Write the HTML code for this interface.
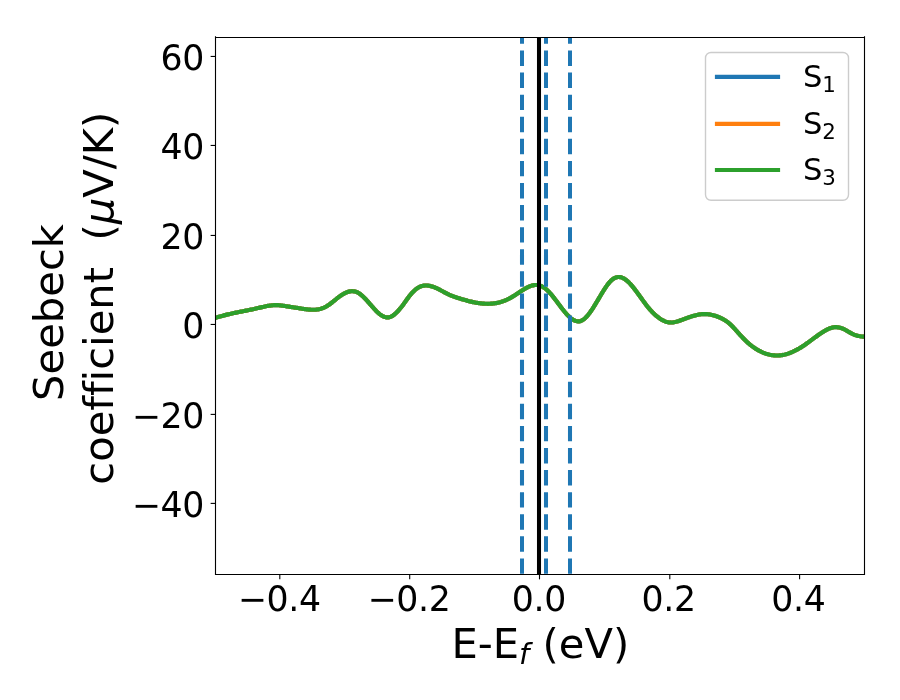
<!DOCTYPE html>
<html><head><meta charset="utf-8"><title>Seebeck coefficient</title>
<style>html,body{margin:0;padding:0;background:#fff}svg{display:block}text{font-variant-ligatures:none;font-feature-settings:"liga" 0,"clig" 0,"dlig" 0}</style>
</head><body>
<svg width="900" height="700" viewBox="0 0 900 700" font-family="'DejaVu Sans', 'Liberation Sans', sans-serif">
<rect width="900" height="700" fill="#fff"/>
<defs><clipPath id="ax"><rect x="215.5" y="37.5" width="649.0" height="537.0"/></clipPath></defs>
<g clip-path="url(#ax)" fill="none">
<path d="M213.0,318.69 L216.0,317.70 L217.0,317.38 L218.0,317.07 L219.0,316.77 L220.0,316.48 L221.0,316.20 L222.0,315.92 L223.0,315.65 L224.0,315.39 L225.0,315.13 L226.0,314.88 L227.0,314.64 L228.0,314.40 L229.0,314.16 L230.0,313.93 L231.0,313.71 L232.0,313.49 L233.0,313.27 L234.0,313.06 L235.0,312.85 L236.0,312.64 L237.0,312.44 L238.0,312.23 L239.0,312.03 L240.0,311.83 L241.0,311.63 L242.0,311.43 L243.0,311.24 L244.0,311.04 L245.0,310.84 L246.0,310.64 L247.0,310.44 L248.0,310.24 L249.0,310.04 L250.0,309.83 L251.0,309.63 L252.0,309.42 L253.0,309.21 L254.0,308.99 L255.0,308.77 L256.0,308.55 L257.0,308.32 L258.0,308.09 L259.0,307.85 L260.0,307.62 L261.0,307.38 L262.0,307.15 L263.0,306.92 L264.0,306.70 L265.0,306.48 L266.0,306.28 L267.0,306.08 L268.0,305.90 L269.0,305.73 L270.0,305.58 L271.0,305.45 L272.0,305.33 L273.0,305.24 L274.0,305.18 L275.0,305.13 L276.0,305.12 L277.0,305.13 L278.0,305.17 L279.0,305.24 L280.0,305.33 L281.0,305.45 L282.0,305.58 L283.0,305.72 L284.0,305.87 L285.0,306.03 L286.0,306.20 L287.0,306.36 L288.0,306.52 L289.0,306.68 L290.0,306.83 L291.0,306.98 L292.0,307.14 L293.0,307.29 L294.0,307.44 L295.0,307.59 L296.0,307.74 L297.0,307.90 L298.0,308.06 L299.0,308.22 L300.0,308.38 L301.0,308.54 L302.0,308.69 L303.0,308.84 L304.0,308.99 L305.0,309.12 L306.0,309.25 L307.0,309.37 L308.0,309.48 L309.0,309.58 L310.0,309.66 L311.0,309.72 L312.0,309.76 L313.0,309.78 L314.0,309.76 L315.0,309.72 L316.0,309.65 L317.0,309.53 L318.0,309.38 L319.0,309.19 L320.0,308.95 L321.0,308.67 L322.0,308.34 L323.0,307.97 L324.0,307.55 L325.0,307.08 L326.0,306.56 L327.0,306.00 L328.0,305.38 L329.0,304.72 L330.0,304.01 L331.0,303.26 L332.0,302.49 L333.0,301.70 L334.0,300.89 L335.0,300.08 L336.0,299.26 L337.0,298.46 L338.0,297.67 L339.0,296.91 L340.0,296.18 L341.0,295.48 L342.0,294.81 L343.0,294.19 L344.0,293.61 L345.0,293.09 L346.0,292.62 L347.0,292.21 L348.0,291.87 L349.0,291.59 L350.0,291.39 L351.0,291.26 L352.0,291.20 L353.0,291.23 L354.0,291.35 L355.0,291.55 L356.0,291.85 L357.0,292.24 L358.0,292.72 L359.0,293.31 L360.0,293.99 L361.0,294.75 L362.0,295.59 L363.0,296.50 L364.0,297.46 L365.0,298.48 L366.0,299.54 L367.0,300.64 L368.0,301.76 L369.0,302.90 L370.0,304.06 L371.0,305.21 L372.0,306.36 L373.0,307.49 L374.0,308.60 L375.0,309.68 L376.0,310.73 L377.0,311.72 L378.0,312.66 L379.0,313.53 L380.0,314.34 L381.0,315.06 L382.0,315.71 L383.0,316.26 L384.0,316.72 L385.0,317.07 L386.0,317.31 L387.0,317.44 L388.0,317.44 L389.0,317.31 L390.0,317.05 L391.0,316.65 L392.0,316.14 L393.0,315.52 L394.0,314.79 L395.0,313.97 L396.0,313.06 L397.0,312.07 L398.0,311.01 L399.0,309.89 L400.0,308.72 L401.0,307.50 L402.0,306.22 L403.0,304.91 L404.0,303.54 L405.0,302.14 L406.0,300.73 L407.0,299.31 L408.0,297.92 L409.0,296.58 L410.0,295.30 L411.0,294.09 L412.0,292.96 L413.0,291.90 L414.0,290.92 L415.0,290.01 L416.0,289.19 L417.0,288.44 L418.0,287.79 L419.0,287.21 L420.0,286.73 L421.0,286.33 L422.0,286.01 L423.0,285.77 L424.0,285.60 L425.0,285.50 L426.0,285.46 L427.0,285.49 L428.0,285.58 L429.0,285.73 L430.0,285.92 L431.0,286.17 L432.0,286.45 L433.0,286.78 L434.0,287.15 L435.0,287.55 L436.0,287.98 L437.0,288.44 L438.0,288.92 L439.0,289.42 L440.0,289.94 L441.0,290.47 L442.0,291.00 L443.0,291.54 L444.0,292.08 L445.0,292.62 L446.0,293.14 L447.0,293.65 L448.0,294.14 L449.0,294.61 L450.0,295.06 L451.0,295.48 L452.0,295.88 L453.0,296.26 L454.0,296.63 L455.0,296.98 L456.0,297.32 L457.0,297.65 L458.0,297.97 L459.0,298.28 L460.0,298.59 L461.0,298.90 L462.0,299.20 L463.0,299.50 L464.0,299.79 L465.0,300.08 L466.0,300.36 L467.0,300.63 L468.0,300.90 L469.0,301.15 L470.0,301.40 L471.0,301.64 L472.0,301.87 L473.0,302.09 L474.0,302.30 L475.0,302.50 L476.0,302.68 L477.0,302.86 L478.0,303.02 L479.0,303.16 L480.0,303.30 L481.0,303.42 L482.0,303.52 L483.0,303.61 L484.0,303.68 L485.0,303.73 L486.0,303.77 L487.0,303.79 L488.0,303.79 L489.0,303.78 L490.0,303.74 L491.0,303.68 L492.0,303.61 L493.0,303.51 L494.0,303.39 L495.0,303.25 L496.0,303.08 L497.0,302.90 L498.0,302.69 L499.0,302.45 L500.0,302.19 L501.0,301.91 L502.0,301.60 L503.0,301.26 L504.0,300.90 L505.0,300.51 L506.0,300.09 L507.0,299.65 L508.0,299.18 L509.0,298.68 L510.0,298.15 L511.0,297.59 L512.0,297.01 L513.0,296.41 L514.0,295.79 L515.0,295.15 L516.0,294.50 L517.0,293.84 L518.0,293.18 L519.0,292.51 L520.0,291.85 L521.0,291.19 L522.0,290.54 L523.0,289.91 L524.0,289.29 L525.0,288.70 L526.0,288.14 L527.0,287.60 L528.0,287.11 L529.0,286.65 L530.0,286.24 L531.0,285.88 L532.0,285.57 L533.0,285.33 L534.0,285.14 L535.0,285.02 L536.0,284.98 L537.0,285.01 L538.0,285.12 L539.0,285.32 L540.0,285.61 L541.0,285.99 L542.0,286.46 L543.0,287.02 L544.0,287.66 L545.0,288.38 L546.0,289.18 L547.0,290.05 L548.0,290.99 L549.0,291.99 L550.0,293.06 L551.0,294.19 L552.0,295.37 L553.0,296.60 L554.0,297.86 L555.0,299.16 L556.0,300.49 L557.0,301.83 L558.0,303.18 L559.0,304.53 L560.0,305.87 L561.0,307.21 L562.0,308.52 L563.0,309.80 L564.0,311.05 L565.0,312.26 L566.0,313.42 L567.0,314.53 L568.0,315.58 L569.0,316.57 L570.0,317.48 L571.0,318.31 L572.0,319.06 L573.0,319.71 L574.0,320.27 L575.0,320.72 L576.0,321.07 L577.0,321.29 L578.0,321.39 L579.0,321.36 L580.0,321.20 L581.0,320.89 L582.0,320.43 L583.0,319.83 L584.0,319.10 L585.0,318.25 L586.0,317.29 L587.0,316.21 L588.0,315.04 L589.0,313.78 L590.0,312.44 L591.0,311.03 L592.0,309.56 L593.0,308.03 L594.0,306.46 L595.0,304.84 L596.0,303.20 L597.0,301.53 L598.0,299.85 L599.0,298.16 L600.0,296.46 L601.0,294.78 L602.0,293.11 L603.0,291.47 L604.0,289.87 L605.0,288.32 L606.0,286.83 L607.0,285.41 L608.0,284.07 L609.0,282.83 L610.0,281.69 L611.0,280.67 L612.0,279.78 L613.0,279.01 L614.0,278.37 L615.0,277.86 L616.0,277.46 L617.0,277.19 L618.0,277.04 L619.0,277.01 L620.0,277.10 L621.0,277.31 L622.0,277.63 L623.0,278.06 L624.0,278.59 L625.0,279.23 L626.0,279.95 L627.0,280.76 L628.0,281.65 L629.0,282.62 L630.0,283.65 L631.0,284.75 L632.0,285.90 L633.0,287.11 L634.0,288.35 L635.0,289.64 L636.0,290.96 L637.0,292.30 L638.0,293.67 L639.0,295.05 L640.0,296.44 L641.0,297.83 L642.0,299.22 L643.0,300.60 L644.0,301.96 L645.0,303.30 L646.0,304.63 L647.0,305.92 L648.0,307.18 L649.0,308.40 L650.0,309.57 L651.0,310.70 L652.0,311.78 L653.0,312.80 L654.0,313.76 L655.0,314.68 L656.0,315.56 L657.0,316.39 L658.0,317.19 L659.0,317.96 L660.0,318.67 L661.0,319.33 L662.0,319.93 L663.0,320.47 L664.0,320.94 L665.0,321.35 L666.0,321.69 L667.0,321.97 L668.0,322.19 L669.0,322.35 L670.0,322.45 L671.0,322.48 L672.0,322.46 L673.0,322.37 L674.0,322.23 L675.0,322.05 L676.0,321.82 L677.0,321.56 L678.0,321.26 L679.0,320.94 L680.0,320.59 L681.0,320.24 L682.0,319.87 L683.0,319.50 L684.0,319.13 L685.0,318.76 L686.0,318.39 L687.0,318.02 L688.0,317.66 L689.0,317.30 L690.0,316.96 L691.0,316.62 L692.0,316.30 L693.0,316.00 L694.0,315.70 L695.0,315.43 L696.0,315.18 L697.0,314.95 L698.0,314.74 L699.0,314.55 L700.0,314.40 L701.0,314.27 L702.0,314.17 L703.0,314.11 L704.0,314.07 L705.0,314.07 L706.0,314.10 L707.0,314.16 L708.0,314.25 L709.0,314.38 L710.0,314.53 L711.0,314.71 L712.0,314.92 L713.0,315.17 L714.0,315.44 L715.0,315.74 L716.0,316.07 L717.0,316.43 L718.0,316.81 L719.0,317.23 L720.0,317.67 L721.0,318.14 L722.0,318.64 L723.0,319.16 L724.0,319.71 L725.0,320.30 L726.0,320.93 L727.0,321.62 L728.0,322.37 L729.0,323.19 L730.0,324.08 L731.0,325.02 L732.0,326.01 L733.0,327.04 L734.0,328.10 L735.0,329.19 L736.0,330.29 L737.0,331.41 L738.0,332.53 L739.0,333.65 L740.0,334.77 L741.0,335.87 L742.0,336.95 L743.0,338.01 L744.0,339.04 L745.0,340.03 L746.0,340.99 L747.0,341.93 L748.0,342.83 L749.0,343.70 L750.0,344.54 L751.0,345.34 L752.0,346.12 L753.0,346.86 L754.0,347.58 L755.0,348.26 L756.0,348.91 L757.0,349.53 L758.0,350.12 L759.0,350.68 L760.0,351.20 L761.0,351.70 L762.0,352.17 L763.0,352.60 L764.0,353.00 L765.0,353.38 L766.0,353.72 L767.0,354.03 L768.0,354.32 L769.0,354.57 L770.0,354.79 L771.0,354.98 L772.0,355.14 L773.0,355.27 L774.0,355.37 L775.0,355.44 L776.0,355.48 L777.0,355.49 L778.0,355.47 L779.0,355.42 L780.0,355.34 L781.0,355.23 L782.0,355.09 L783.0,354.92 L784.0,354.72 L785.0,354.49 L786.0,354.23 L787.0,353.94 L788.0,353.63 L789.0,353.29 L790.0,352.93 L791.0,352.53 L792.0,352.12 L793.0,351.68 L794.0,351.21 L795.0,350.73 L796.0,350.22 L797.0,349.68 L798.0,349.13 L799.0,348.56 L800.0,347.96 L801.0,347.35 L802.0,346.72 L803.0,346.07 L804.0,345.40 L805.0,344.72 L806.0,344.02 L807.0,343.31 L808.0,342.59 L809.0,341.87 L810.0,341.13 L811.0,340.40 L812.0,339.66 L813.0,338.92 L814.0,338.18 L815.0,337.44 L816.0,336.71 L817.0,335.99 L818.0,335.28 L819.0,334.57 L820.0,333.88 L821.0,333.21 L822.0,332.55 L823.0,331.91 L824.0,331.29 L825.0,330.70 L826.0,330.14 L827.0,329.61 L828.0,329.12 L829.0,328.67 L830.0,328.28 L831.0,327.93 L832.0,327.65 L833.0,327.43 L834.0,327.27 L835.0,327.18 L836.0,327.16 L837.0,327.20 L838.0,327.31 L839.0,327.48 L840.0,327.71 L841.0,328.00 L842.0,328.35 L843.0,328.76 L844.0,329.22 L845.0,329.74 L846.0,330.29 L847.0,330.86 L848.0,331.45 L849.0,332.03 L850.0,332.61 L851.0,333.17 L852.0,333.70 L853.0,334.18 L854.0,334.61 L855.0,334.99 L856.0,335.33 L857.0,335.61 L858.0,335.86 L859.0,336.06 L860.0,336.23 L861.0,336.37 L862.0,336.47 L863.0,336.55 L867.0,336.64" stroke="#1f77b4" stroke-width="4.17" stroke-linejoin="round" stroke-linecap="square"/>
<path d="M213.0,318.69 L216.0,317.70 L217.0,317.38 L218.0,317.07 L219.0,316.77 L220.0,316.48 L221.0,316.20 L222.0,315.92 L223.0,315.65 L224.0,315.39 L225.0,315.13 L226.0,314.88 L227.0,314.64 L228.0,314.40 L229.0,314.16 L230.0,313.93 L231.0,313.71 L232.0,313.49 L233.0,313.27 L234.0,313.06 L235.0,312.85 L236.0,312.64 L237.0,312.44 L238.0,312.23 L239.0,312.03 L240.0,311.83 L241.0,311.63 L242.0,311.43 L243.0,311.24 L244.0,311.04 L245.0,310.84 L246.0,310.64 L247.0,310.44 L248.0,310.24 L249.0,310.04 L250.0,309.83 L251.0,309.63 L252.0,309.42 L253.0,309.21 L254.0,308.99 L255.0,308.77 L256.0,308.55 L257.0,308.32 L258.0,308.09 L259.0,307.85 L260.0,307.62 L261.0,307.38 L262.0,307.15 L263.0,306.92 L264.0,306.70 L265.0,306.48 L266.0,306.28 L267.0,306.08 L268.0,305.90 L269.0,305.73 L270.0,305.58 L271.0,305.45 L272.0,305.33 L273.0,305.24 L274.0,305.18 L275.0,305.13 L276.0,305.12 L277.0,305.13 L278.0,305.17 L279.0,305.24 L280.0,305.33 L281.0,305.45 L282.0,305.58 L283.0,305.72 L284.0,305.87 L285.0,306.03 L286.0,306.20 L287.0,306.36 L288.0,306.52 L289.0,306.68 L290.0,306.83 L291.0,306.98 L292.0,307.14 L293.0,307.29 L294.0,307.44 L295.0,307.59 L296.0,307.74 L297.0,307.90 L298.0,308.06 L299.0,308.22 L300.0,308.38 L301.0,308.54 L302.0,308.69 L303.0,308.84 L304.0,308.99 L305.0,309.12 L306.0,309.25 L307.0,309.37 L308.0,309.48 L309.0,309.58 L310.0,309.66 L311.0,309.72 L312.0,309.76 L313.0,309.78 L314.0,309.76 L315.0,309.72 L316.0,309.65 L317.0,309.53 L318.0,309.38 L319.0,309.19 L320.0,308.95 L321.0,308.67 L322.0,308.34 L323.0,307.97 L324.0,307.55 L325.0,307.08 L326.0,306.56 L327.0,306.00 L328.0,305.38 L329.0,304.72 L330.0,304.01 L331.0,303.26 L332.0,302.49 L333.0,301.70 L334.0,300.89 L335.0,300.08 L336.0,299.26 L337.0,298.46 L338.0,297.67 L339.0,296.91 L340.0,296.18 L341.0,295.48 L342.0,294.81 L343.0,294.19 L344.0,293.61 L345.0,293.09 L346.0,292.62 L347.0,292.21 L348.0,291.87 L349.0,291.59 L350.0,291.39 L351.0,291.26 L352.0,291.20 L353.0,291.23 L354.0,291.35 L355.0,291.55 L356.0,291.85 L357.0,292.24 L358.0,292.72 L359.0,293.31 L360.0,293.99 L361.0,294.75 L362.0,295.59 L363.0,296.50 L364.0,297.46 L365.0,298.48 L366.0,299.54 L367.0,300.64 L368.0,301.76 L369.0,302.90 L370.0,304.06 L371.0,305.21 L372.0,306.36 L373.0,307.49 L374.0,308.60 L375.0,309.68 L376.0,310.73 L377.0,311.72 L378.0,312.66 L379.0,313.53 L380.0,314.34 L381.0,315.06 L382.0,315.71 L383.0,316.26 L384.0,316.72 L385.0,317.07 L386.0,317.31 L387.0,317.44 L388.0,317.44 L389.0,317.31 L390.0,317.05 L391.0,316.65 L392.0,316.14 L393.0,315.52 L394.0,314.79 L395.0,313.97 L396.0,313.06 L397.0,312.07 L398.0,311.01 L399.0,309.89 L400.0,308.72 L401.0,307.50 L402.0,306.22 L403.0,304.91 L404.0,303.54 L405.0,302.14 L406.0,300.73 L407.0,299.31 L408.0,297.92 L409.0,296.58 L410.0,295.30 L411.0,294.09 L412.0,292.96 L413.0,291.90 L414.0,290.92 L415.0,290.01 L416.0,289.19 L417.0,288.44 L418.0,287.79 L419.0,287.21 L420.0,286.73 L421.0,286.33 L422.0,286.01 L423.0,285.77 L424.0,285.60 L425.0,285.50 L426.0,285.46 L427.0,285.49 L428.0,285.58 L429.0,285.73 L430.0,285.92 L431.0,286.17 L432.0,286.45 L433.0,286.78 L434.0,287.15 L435.0,287.55 L436.0,287.98 L437.0,288.44 L438.0,288.92 L439.0,289.42 L440.0,289.94 L441.0,290.47 L442.0,291.00 L443.0,291.54 L444.0,292.08 L445.0,292.62 L446.0,293.14 L447.0,293.65 L448.0,294.14 L449.0,294.61 L450.0,295.06 L451.0,295.48 L452.0,295.88 L453.0,296.26 L454.0,296.63 L455.0,296.98 L456.0,297.32 L457.0,297.65 L458.0,297.97 L459.0,298.28 L460.0,298.59 L461.0,298.90 L462.0,299.20 L463.0,299.50 L464.0,299.79 L465.0,300.08 L466.0,300.36 L467.0,300.63 L468.0,300.90 L469.0,301.15 L470.0,301.40 L471.0,301.64 L472.0,301.87 L473.0,302.09 L474.0,302.30 L475.0,302.50 L476.0,302.68 L477.0,302.86 L478.0,303.02 L479.0,303.16 L480.0,303.30 L481.0,303.42 L482.0,303.52 L483.0,303.61 L484.0,303.68 L485.0,303.73 L486.0,303.77 L487.0,303.79 L488.0,303.79 L489.0,303.78 L490.0,303.74 L491.0,303.68 L492.0,303.61 L493.0,303.51 L494.0,303.39 L495.0,303.25 L496.0,303.08 L497.0,302.90 L498.0,302.69 L499.0,302.45 L500.0,302.19 L501.0,301.91 L502.0,301.60 L503.0,301.26 L504.0,300.90 L505.0,300.51 L506.0,300.09 L507.0,299.65 L508.0,299.18 L509.0,298.68 L510.0,298.15 L511.0,297.59 L512.0,297.01 L513.0,296.41 L514.0,295.79 L515.0,295.15 L516.0,294.50 L517.0,293.84 L518.0,293.18 L519.0,292.51 L520.0,291.85 L521.0,291.19 L522.0,290.54 L523.0,289.91 L524.0,289.29 L525.0,288.70 L526.0,288.14 L527.0,287.60 L528.0,287.11 L529.0,286.65 L530.0,286.24 L531.0,285.88 L532.0,285.57 L533.0,285.33 L534.0,285.14 L535.0,285.02 L536.0,284.98 L537.0,285.01 L538.0,285.12 L539.0,285.32 L540.0,285.61 L541.0,285.99 L542.0,286.46 L543.0,287.02 L544.0,287.66 L545.0,288.38 L546.0,289.18 L547.0,290.05 L548.0,290.99 L549.0,291.99 L550.0,293.06 L551.0,294.19 L552.0,295.37 L553.0,296.60 L554.0,297.86 L555.0,299.16 L556.0,300.49 L557.0,301.83 L558.0,303.18 L559.0,304.53 L560.0,305.87 L561.0,307.21 L562.0,308.52 L563.0,309.80 L564.0,311.05 L565.0,312.26 L566.0,313.42 L567.0,314.53 L568.0,315.58 L569.0,316.57 L570.0,317.48 L571.0,318.31 L572.0,319.06 L573.0,319.71 L574.0,320.27 L575.0,320.72 L576.0,321.07 L577.0,321.29 L578.0,321.39 L579.0,321.36 L580.0,321.20 L581.0,320.89 L582.0,320.43 L583.0,319.83 L584.0,319.10 L585.0,318.25 L586.0,317.29 L587.0,316.21 L588.0,315.04 L589.0,313.78 L590.0,312.44 L591.0,311.03 L592.0,309.56 L593.0,308.03 L594.0,306.46 L595.0,304.84 L596.0,303.20 L597.0,301.53 L598.0,299.85 L599.0,298.16 L600.0,296.46 L601.0,294.78 L602.0,293.11 L603.0,291.47 L604.0,289.87 L605.0,288.32 L606.0,286.83 L607.0,285.41 L608.0,284.07 L609.0,282.83 L610.0,281.69 L611.0,280.67 L612.0,279.78 L613.0,279.01 L614.0,278.37 L615.0,277.86 L616.0,277.46 L617.0,277.19 L618.0,277.04 L619.0,277.01 L620.0,277.10 L621.0,277.31 L622.0,277.63 L623.0,278.06 L624.0,278.59 L625.0,279.23 L626.0,279.95 L627.0,280.76 L628.0,281.65 L629.0,282.62 L630.0,283.65 L631.0,284.75 L632.0,285.90 L633.0,287.11 L634.0,288.35 L635.0,289.64 L636.0,290.96 L637.0,292.30 L638.0,293.67 L639.0,295.05 L640.0,296.44 L641.0,297.83 L642.0,299.22 L643.0,300.60 L644.0,301.96 L645.0,303.30 L646.0,304.63 L647.0,305.92 L648.0,307.18 L649.0,308.40 L650.0,309.57 L651.0,310.70 L652.0,311.78 L653.0,312.80 L654.0,313.76 L655.0,314.68 L656.0,315.56 L657.0,316.39 L658.0,317.19 L659.0,317.96 L660.0,318.67 L661.0,319.33 L662.0,319.93 L663.0,320.47 L664.0,320.94 L665.0,321.35 L666.0,321.69 L667.0,321.97 L668.0,322.19 L669.0,322.35 L670.0,322.45 L671.0,322.48 L672.0,322.46 L673.0,322.37 L674.0,322.23 L675.0,322.05 L676.0,321.82 L677.0,321.56 L678.0,321.26 L679.0,320.94 L680.0,320.59 L681.0,320.24 L682.0,319.87 L683.0,319.50 L684.0,319.13 L685.0,318.76 L686.0,318.39 L687.0,318.02 L688.0,317.66 L689.0,317.30 L690.0,316.96 L691.0,316.62 L692.0,316.30 L693.0,316.00 L694.0,315.70 L695.0,315.43 L696.0,315.18 L697.0,314.95 L698.0,314.74 L699.0,314.55 L700.0,314.40 L701.0,314.27 L702.0,314.17 L703.0,314.11 L704.0,314.07 L705.0,314.07 L706.0,314.10 L707.0,314.16 L708.0,314.25 L709.0,314.38 L710.0,314.53 L711.0,314.71 L712.0,314.92 L713.0,315.17 L714.0,315.44 L715.0,315.74 L716.0,316.07 L717.0,316.43 L718.0,316.81 L719.0,317.23 L720.0,317.67 L721.0,318.14 L722.0,318.64 L723.0,319.16 L724.0,319.71 L725.0,320.30 L726.0,320.93 L727.0,321.62 L728.0,322.37 L729.0,323.19 L730.0,324.08 L731.0,325.02 L732.0,326.01 L733.0,327.04 L734.0,328.10 L735.0,329.19 L736.0,330.29 L737.0,331.41 L738.0,332.53 L739.0,333.65 L740.0,334.77 L741.0,335.87 L742.0,336.95 L743.0,338.01 L744.0,339.04 L745.0,340.03 L746.0,340.99 L747.0,341.93 L748.0,342.83 L749.0,343.70 L750.0,344.54 L751.0,345.34 L752.0,346.12 L753.0,346.86 L754.0,347.58 L755.0,348.26 L756.0,348.91 L757.0,349.53 L758.0,350.12 L759.0,350.68 L760.0,351.20 L761.0,351.70 L762.0,352.17 L763.0,352.60 L764.0,353.00 L765.0,353.38 L766.0,353.72 L767.0,354.03 L768.0,354.32 L769.0,354.57 L770.0,354.79 L771.0,354.98 L772.0,355.14 L773.0,355.27 L774.0,355.37 L775.0,355.44 L776.0,355.48 L777.0,355.49 L778.0,355.47 L779.0,355.42 L780.0,355.34 L781.0,355.23 L782.0,355.09 L783.0,354.92 L784.0,354.72 L785.0,354.49 L786.0,354.23 L787.0,353.94 L788.0,353.63 L789.0,353.29 L790.0,352.93 L791.0,352.53 L792.0,352.12 L793.0,351.68 L794.0,351.21 L795.0,350.73 L796.0,350.22 L797.0,349.68 L798.0,349.13 L799.0,348.56 L800.0,347.96 L801.0,347.35 L802.0,346.72 L803.0,346.07 L804.0,345.40 L805.0,344.72 L806.0,344.02 L807.0,343.31 L808.0,342.59 L809.0,341.87 L810.0,341.13 L811.0,340.40 L812.0,339.66 L813.0,338.92 L814.0,338.18 L815.0,337.44 L816.0,336.71 L817.0,335.99 L818.0,335.28 L819.0,334.57 L820.0,333.88 L821.0,333.21 L822.0,332.55 L823.0,331.91 L824.0,331.29 L825.0,330.70 L826.0,330.14 L827.0,329.61 L828.0,329.12 L829.0,328.67 L830.0,328.28 L831.0,327.93 L832.0,327.65 L833.0,327.43 L834.0,327.27 L835.0,327.18 L836.0,327.16 L837.0,327.20 L838.0,327.31 L839.0,327.48 L840.0,327.71 L841.0,328.00 L842.0,328.35 L843.0,328.76 L844.0,329.22 L845.0,329.74 L846.0,330.29 L847.0,330.86 L848.0,331.45 L849.0,332.03 L850.0,332.61 L851.0,333.17 L852.0,333.70 L853.0,334.18 L854.0,334.61 L855.0,334.99 L856.0,335.33 L857.0,335.61 L858.0,335.86 L859.0,336.06 L860.0,336.23 L861.0,336.37 L862.0,336.47 L863.0,336.55 L867.0,336.64" stroke="#ff7f0e" stroke-width="4.17" stroke-linejoin="round" stroke-linecap="square"/>
<path d="M213.0,318.69 L216.0,317.70 L217.0,317.38 L218.0,317.07 L219.0,316.77 L220.0,316.48 L221.0,316.20 L222.0,315.92 L223.0,315.65 L224.0,315.39 L225.0,315.13 L226.0,314.88 L227.0,314.64 L228.0,314.40 L229.0,314.16 L230.0,313.93 L231.0,313.71 L232.0,313.49 L233.0,313.27 L234.0,313.06 L235.0,312.85 L236.0,312.64 L237.0,312.44 L238.0,312.23 L239.0,312.03 L240.0,311.83 L241.0,311.63 L242.0,311.43 L243.0,311.24 L244.0,311.04 L245.0,310.84 L246.0,310.64 L247.0,310.44 L248.0,310.24 L249.0,310.04 L250.0,309.83 L251.0,309.63 L252.0,309.42 L253.0,309.21 L254.0,308.99 L255.0,308.77 L256.0,308.55 L257.0,308.32 L258.0,308.09 L259.0,307.85 L260.0,307.62 L261.0,307.38 L262.0,307.15 L263.0,306.92 L264.0,306.70 L265.0,306.48 L266.0,306.28 L267.0,306.08 L268.0,305.90 L269.0,305.73 L270.0,305.58 L271.0,305.45 L272.0,305.33 L273.0,305.24 L274.0,305.18 L275.0,305.13 L276.0,305.12 L277.0,305.13 L278.0,305.17 L279.0,305.24 L280.0,305.33 L281.0,305.45 L282.0,305.58 L283.0,305.72 L284.0,305.87 L285.0,306.03 L286.0,306.20 L287.0,306.36 L288.0,306.52 L289.0,306.68 L290.0,306.83 L291.0,306.98 L292.0,307.14 L293.0,307.29 L294.0,307.44 L295.0,307.59 L296.0,307.74 L297.0,307.90 L298.0,308.06 L299.0,308.22 L300.0,308.38 L301.0,308.54 L302.0,308.69 L303.0,308.84 L304.0,308.99 L305.0,309.12 L306.0,309.25 L307.0,309.37 L308.0,309.48 L309.0,309.58 L310.0,309.66 L311.0,309.72 L312.0,309.76 L313.0,309.78 L314.0,309.76 L315.0,309.72 L316.0,309.65 L317.0,309.53 L318.0,309.38 L319.0,309.19 L320.0,308.95 L321.0,308.67 L322.0,308.34 L323.0,307.97 L324.0,307.55 L325.0,307.08 L326.0,306.56 L327.0,306.00 L328.0,305.38 L329.0,304.72 L330.0,304.01 L331.0,303.26 L332.0,302.49 L333.0,301.70 L334.0,300.89 L335.0,300.08 L336.0,299.26 L337.0,298.46 L338.0,297.67 L339.0,296.91 L340.0,296.18 L341.0,295.48 L342.0,294.81 L343.0,294.19 L344.0,293.61 L345.0,293.09 L346.0,292.62 L347.0,292.21 L348.0,291.87 L349.0,291.59 L350.0,291.39 L351.0,291.26 L352.0,291.20 L353.0,291.23 L354.0,291.35 L355.0,291.55 L356.0,291.85 L357.0,292.24 L358.0,292.72 L359.0,293.31 L360.0,293.99 L361.0,294.75 L362.0,295.59 L363.0,296.50 L364.0,297.46 L365.0,298.48 L366.0,299.54 L367.0,300.64 L368.0,301.76 L369.0,302.90 L370.0,304.06 L371.0,305.21 L372.0,306.36 L373.0,307.49 L374.0,308.60 L375.0,309.68 L376.0,310.73 L377.0,311.72 L378.0,312.66 L379.0,313.53 L380.0,314.34 L381.0,315.06 L382.0,315.71 L383.0,316.26 L384.0,316.72 L385.0,317.07 L386.0,317.31 L387.0,317.44 L388.0,317.44 L389.0,317.31 L390.0,317.05 L391.0,316.65 L392.0,316.14 L393.0,315.52 L394.0,314.79 L395.0,313.97 L396.0,313.06 L397.0,312.07 L398.0,311.01 L399.0,309.89 L400.0,308.72 L401.0,307.50 L402.0,306.22 L403.0,304.91 L404.0,303.54 L405.0,302.14 L406.0,300.73 L407.0,299.31 L408.0,297.92 L409.0,296.58 L410.0,295.30 L411.0,294.09 L412.0,292.96 L413.0,291.90 L414.0,290.92 L415.0,290.01 L416.0,289.19 L417.0,288.44 L418.0,287.79 L419.0,287.21 L420.0,286.73 L421.0,286.33 L422.0,286.01 L423.0,285.77 L424.0,285.60 L425.0,285.50 L426.0,285.46 L427.0,285.49 L428.0,285.58 L429.0,285.73 L430.0,285.92 L431.0,286.17 L432.0,286.45 L433.0,286.78 L434.0,287.15 L435.0,287.55 L436.0,287.98 L437.0,288.44 L438.0,288.92 L439.0,289.42 L440.0,289.94 L441.0,290.47 L442.0,291.00 L443.0,291.54 L444.0,292.08 L445.0,292.62 L446.0,293.14 L447.0,293.65 L448.0,294.14 L449.0,294.61 L450.0,295.06 L451.0,295.48 L452.0,295.88 L453.0,296.26 L454.0,296.63 L455.0,296.98 L456.0,297.32 L457.0,297.65 L458.0,297.97 L459.0,298.28 L460.0,298.59 L461.0,298.90 L462.0,299.20 L463.0,299.50 L464.0,299.79 L465.0,300.08 L466.0,300.36 L467.0,300.63 L468.0,300.90 L469.0,301.15 L470.0,301.40 L471.0,301.64 L472.0,301.87 L473.0,302.09 L474.0,302.30 L475.0,302.50 L476.0,302.68 L477.0,302.86 L478.0,303.02 L479.0,303.16 L480.0,303.30 L481.0,303.42 L482.0,303.52 L483.0,303.61 L484.0,303.68 L485.0,303.73 L486.0,303.77 L487.0,303.79 L488.0,303.79 L489.0,303.78 L490.0,303.74 L491.0,303.68 L492.0,303.61 L493.0,303.51 L494.0,303.39 L495.0,303.25 L496.0,303.08 L497.0,302.90 L498.0,302.69 L499.0,302.45 L500.0,302.19 L501.0,301.91 L502.0,301.60 L503.0,301.26 L504.0,300.90 L505.0,300.51 L506.0,300.09 L507.0,299.65 L508.0,299.18 L509.0,298.68 L510.0,298.15 L511.0,297.59 L512.0,297.01 L513.0,296.41 L514.0,295.79 L515.0,295.15 L516.0,294.50 L517.0,293.84 L518.0,293.18 L519.0,292.51 L520.0,291.85 L521.0,291.19 L522.0,290.54 L523.0,289.91 L524.0,289.29 L525.0,288.70 L526.0,288.14 L527.0,287.60 L528.0,287.11 L529.0,286.65 L530.0,286.24 L531.0,285.88 L532.0,285.57 L533.0,285.33 L534.0,285.14 L535.0,285.02 L536.0,284.98 L537.0,285.01 L538.0,285.12 L539.0,285.32 L540.0,285.61 L541.0,285.99 L542.0,286.46 L543.0,287.02 L544.0,287.66 L545.0,288.38 L546.0,289.18 L547.0,290.05 L548.0,290.99 L549.0,291.99 L550.0,293.06 L551.0,294.19 L552.0,295.37 L553.0,296.60 L554.0,297.86 L555.0,299.16 L556.0,300.49 L557.0,301.83 L558.0,303.18 L559.0,304.53 L560.0,305.87 L561.0,307.21 L562.0,308.52 L563.0,309.80 L564.0,311.05 L565.0,312.26 L566.0,313.42 L567.0,314.53 L568.0,315.58 L569.0,316.57 L570.0,317.48 L571.0,318.31 L572.0,319.06 L573.0,319.71 L574.0,320.27 L575.0,320.72 L576.0,321.07 L577.0,321.29 L578.0,321.39 L579.0,321.36 L580.0,321.20 L581.0,320.89 L582.0,320.43 L583.0,319.83 L584.0,319.10 L585.0,318.25 L586.0,317.29 L587.0,316.21 L588.0,315.04 L589.0,313.78 L590.0,312.44 L591.0,311.03 L592.0,309.56 L593.0,308.03 L594.0,306.46 L595.0,304.84 L596.0,303.20 L597.0,301.53 L598.0,299.85 L599.0,298.16 L600.0,296.46 L601.0,294.78 L602.0,293.11 L603.0,291.47 L604.0,289.87 L605.0,288.32 L606.0,286.83 L607.0,285.41 L608.0,284.07 L609.0,282.83 L610.0,281.69 L611.0,280.67 L612.0,279.78 L613.0,279.01 L614.0,278.37 L615.0,277.86 L616.0,277.46 L617.0,277.19 L618.0,277.04 L619.0,277.01 L620.0,277.10 L621.0,277.31 L622.0,277.63 L623.0,278.06 L624.0,278.59 L625.0,279.23 L626.0,279.95 L627.0,280.76 L628.0,281.65 L629.0,282.62 L630.0,283.65 L631.0,284.75 L632.0,285.90 L633.0,287.11 L634.0,288.35 L635.0,289.64 L636.0,290.96 L637.0,292.30 L638.0,293.67 L639.0,295.05 L640.0,296.44 L641.0,297.83 L642.0,299.22 L643.0,300.60 L644.0,301.96 L645.0,303.30 L646.0,304.63 L647.0,305.92 L648.0,307.18 L649.0,308.40 L650.0,309.57 L651.0,310.70 L652.0,311.78 L653.0,312.80 L654.0,313.76 L655.0,314.68 L656.0,315.56 L657.0,316.39 L658.0,317.19 L659.0,317.96 L660.0,318.67 L661.0,319.33 L662.0,319.93 L663.0,320.47 L664.0,320.94 L665.0,321.35 L666.0,321.69 L667.0,321.97 L668.0,322.19 L669.0,322.35 L670.0,322.45 L671.0,322.48 L672.0,322.46 L673.0,322.37 L674.0,322.23 L675.0,322.05 L676.0,321.82 L677.0,321.56 L678.0,321.26 L679.0,320.94 L680.0,320.59 L681.0,320.24 L682.0,319.87 L683.0,319.50 L684.0,319.13 L685.0,318.76 L686.0,318.39 L687.0,318.02 L688.0,317.66 L689.0,317.30 L690.0,316.96 L691.0,316.62 L692.0,316.30 L693.0,316.00 L694.0,315.70 L695.0,315.43 L696.0,315.18 L697.0,314.95 L698.0,314.74 L699.0,314.55 L700.0,314.40 L701.0,314.27 L702.0,314.17 L703.0,314.11 L704.0,314.07 L705.0,314.07 L706.0,314.10 L707.0,314.16 L708.0,314.25 L709.0,314.38 L710.0,314.53 L711.0,314.71 L712.0,314.92 L713.0,315.17 L714.0,315.44 L715.0,315.74 L716.0,316.07 L717.0,316.43 L718.0,316.81 L719.0,317.23 L720.0,317.67 L721.0,318.14 L722.0,318.64 L723.0,319.16 L724.0,319.71 L725.0,320.30 L726.0,320.93 L727.0,321.62 L728.0,322.37 L729.0,323.19 L730.0,324.08 L731.0,325.02 L732.0,326.01 L733.0,327.04 L734.0,328.10 L735.0,329.19 L736.0,330.29 L737.0,331.41 L738.0,332.53 L739.0,333.65 L740.0,334.77 L741.0,335.87 L742.0,336.95 L743.0,338.01 L744.0,339.04 L745.0,340.03 L746.0,340.99 L747.0,341.93 L748.0,342.83 L749.0,343.70 L750.0,344.54 L751.0,345.34 L752.0,346.12 L753.0,346.86 L754.0,347.58 L755.0,348.26 L756.0,348.91 L757.0,349.53 L758.0,350.12 L759.0,350.68 L760.0,351.20 L761.0,351.70 L762.0,352.17 L763.0,352.60 L764.0,353.00 L765.0,353.38 L766.0,353.72 L767.0,354.03 L768.0,354.32 L769.0,354.57 L770.0,354.79 L771.0,354.98 L772.0,355.14 L773.0,355.27 L774.0,355.37 L775.0,355.44 L776.0,355.48 L777.0,355.49 L778.0,355.47 L779.0,355.42 L780.0,355.34 L781.0,355.23 L782.0,355.09 L783.0,354.92 L784.0,354.72 L785.0,354.49 L786.0,354.23 L787.0,353.94 L788.0,353.63 L789.0,353.29 L790.0,352.93 L791.0,352.53 L792.0,352.12 L793.0,351.68 L794.0,351.21 L795.0,350.73 L796.0,350.22 L797.0,349.68 L798.0,349.13 L799.0,348.56 L800.0,347.96 L801.0,347.35 L802.0,346.72 L803.0,346.07 L804.0,345.40 L805.0,344.72 L806.0,344.02 L807.0,343.31 L808.0,342.59 L809.0,341.87 L810.0,341.13 L811.0,340.40 L812.0,339.66 L813.0,338.92 L814.0,338.18 L815.0,337.44 L816.0,336.71 L817.0,335.99 L818.0,335.28 L819.0,334.57 L820.0,333.88 L821.0,333.21 L822.0,332.55 L823.0,331.91 L824.0,331.29 L825.0,330.70 L826.0,330.14 L827.0,329.61 L828.0,329.12 L829.0,328.67 L830.0,328.28 L831.0,327.93 L832.0,327.65 L833.0,327.43 L834.0,327.27 L835.0,327.18 L836.0,327.16 L837.0,327.20 L838.0,327.31 L839.0,327.48 L840.0,327.71 L841.0,328.00 L842.0,328.35 L843.0,328.76 L844.0,329.22 L845.0,329.74 L846.0,330.29 L847.0,330.86 L848.0,331.45 L849.0,332.03 L850.0,332.61 L851.0,333.17 L852.0,333.70 L853.0,334.18 L854.0,334.61 L855.0,334.99 L856.0,335.33 L857.0,335.61 L858.0,335.86 L859.0,336.06 L860.0,336.23 L861.0,336.37 L862.0,336.47 L863.0,336.55 L867.0,336.64" stroke="#2ca02c" stroke-width="4.17" stroke-linejoin="round" stroke-linecap="square"/>
<path d="M522.0,595.933 L522.0,32.5" stroke="#1f77b4" stroke-width="4.05" stroke-dasharray="15.42 6.663"/>
<path d="M546.0,595.933 L546.0,32.5" stroke="#1f77b4" stroke-width="4.05" stroke-dasharray="15.42 6.663"/>
<path d="M570.0,595.933 L570.0,32.5" stroke="#1f77b4" stroke-width="4.05" stroke-dasharray="15.42 6.663"/>
<path d="M539.0,574.5 L539.0,37.5" stroke="#000" stroke-width="4.05"/>
</g>
<g stroke="#000" stroke-width="1.11" fill="none">
<path d="M279.8,574.5 v4.86"/>
<path d="M409.7,574.5 v4.86"/>
<path d="M539.5,574.5 v4.86"/>
<path d="M669.8,574.5 v4.86"/>
<path d="M799.6,574.5 v4.86"/>
<path d="M215.5,56.45 h-4.86"/>
<path d="M215.5,145.45 h-4.86"/>
<path d="M215.5,235.45 h-4.86"/>
<path d="M215.5,324.45 h-4.86"/>
<path d="M215.5,414.40 h-4.86"/>
<path d="M215.5,503.40 h-4.86"/>
<path d="M215.5,575.05 L215.5,36.3 M864.5,575.05 L864.5,36.3 M214.95,37.5 L865.05,37.5 M214.95,574.5 L865.05,574.5"/>
</g>
<g font-size="34.72px" fill="#000" letter-spacing="-0.35">
<text x="279.2" y="611" text-anchor="middle">−0.4</text>
<text x="409.0" y="611" text-anchor="middle">−0.2</text>
<text x="538.8" y="611" text-anchor="middle">0.0</text>
<text x="668.6" y="611" text-anchor="middle">0.2</text>
<text x="798.4" y="611" text-anchor="middle">0.4</text>
<text x="204.0" y="69.8" text-anchor="end">60</text>
<text x="204.0" y="158.8" text-anchor="end">40</text>
<text x="204.0" y="248.8" text-anchor="end">20</text>
<text x="204.0" y="337.8" text-anchor="end">0</text>
<text x="204.0" y="427.7" text-anchor="end">−20</text>
<text x="204.0" y="516.7" text-anchor="end">−40</text>
</g>
<g font-size="41.67px" fill="#000">
<text x="540.3" y="657.6" text-anchor="middle">E-E<tspan font-size="29.17px" font-style="italic" dy="6.5">f</tspan><tspan dy="-6.5"> (eV)</tspan></text>
<text transform="translate(63.4,312.5) rotate(-90)" text-anchor="middle">Seebeck</text>
<text transform="translate(113.4,298.2) rotate(-90)" text-anchor="middle" xml:space="preserve">coefficient  (<tspan font-style="italic">μ</tspan>V/K)</text>
</g>
<rect x="705.5" y="52.5" width="143" height="147.8" rx="5.5" ry="5.5" fill="#fff" fill-opacity="0.8" stroke="#ccc" stroke-width="1.39"/>
<path d="M714.9,76.95 L780.1,76.95" stroke="#1f77b4" stroke-width="4.17" fill="none"/>
<text x="802.9" y="86.50" font-size="30.56px">S<tspan font-size="21.39px" dy="5.3">1</tspan></text>
<path d="M714.9,123.95 L780.1,123.95" stroke="#ff7f0e" stroke-width="4.17" fill="none"/>
<text x="802.9" y="133.50" font-size="30.56px">S<tspan font-size="21.39px" dy="5.3">2</tspan></text>
<path d="M714.9,170.0 L780.1,170.0" stroke="#2ca02c" stroke-width="4.17" fill="none"/>
<text x="802.9" y="179.55" font-size="30.56px">S<tspan font-size="21.39px" dy="5.3">3</tspan></text>
</svg>
</body></html>
